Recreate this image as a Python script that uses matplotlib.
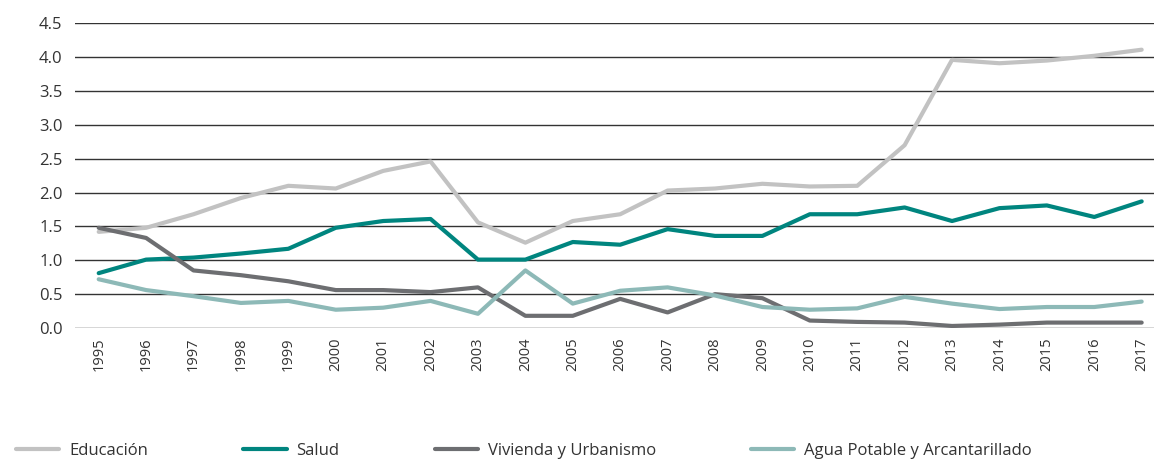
import numpy as np
import matplotlib
matplotlib.use('Agg')
import matplotlib.pyplot as plt

years = list(range(1995, 2018))
educacion = [1.42, 1.48, 1.68, 1.92, 2.10, 2.06, 2.32, 2.46, 1.56, 1.26, 1.58, 1.68,
             2.03, 2.06, 2.13, 2.09, 2.10, 2.70, 3.96, 3.91, 3.95, 4.02, 4.11]
salud = [0.81, 1.01, 1.04, 1.10, 1.17, 1.48, 1.58, 1.61, 1.01, 1.01, 1.27, 1.23,
         1.46, 1.36, 1.36, 1.68, 1.68, 1.78, 1.58, 1.77, 1.81, 1.64, 1.87]
vivienda = [1.48, 1.33, 0.85, 0.78, 0.69, 0.56, 0.56, 0.53, 0.60, 0.18, 0.18, 0.43,
            0.23, 0.50, 0.44, 0.11, 0.09, 0.08, 0.03, 0.05, 0.08, 0.08, 0.08]
agua = [0.72, 0.56, 0.47, 0.37, 0.40, 0.27, 0.30, 0.40, 0.21, 0.85, 0.36, 0.55,
        0.60, 0.48, 0.31, 0.27, 0.29, 0.46, 0.36, 0.28, 0.31, 0.31, 0.39]
labels = ['Educación', 'Salud', 'Vivienda y Urbanismo', 'Agua Potable y Arcantarillado']
colors = ['#c2c2c2', '#00857f', '#6d6e71', '#8db9b7']

plt.rcParams['font.family'] = ['Open Sans', 'DejaVu Sans']

fig = plt.figure(figsize=(11.54, 4.59), dpi=100)
ax = fig.add_axes([75 / 1154, 1 - 328 / 459, 1 - 75 / 1154, (328 - 23.3) / 459])

for vals, lab, col in zip([educacion, salud, vivienda, agua], labels, colors):
    ax.plot(years, vals, color=col, lw=3, label=lab, solid_capstyle='round', zorder=3)

ax.set_xlim(1994.5, 2017.26)
ax.set_ylim(0, 4.5)
ax.set_yticks(np.arange(0, 4.51, 0.5))
ax.set_yticklabels(['%.1f' % v for v in np.arange(0, 4.51, 0.5)])
ax.set_xticks(years)
ax.set_xticklabels([str(y) for y in years], rotation=90)
ax.tick_params(axis='y', length=0, pad=9, labelsize=12, labelcolor='#333333')
ax.tick_params(axis='x', length=0, pad=7, labelsize=10.5, labelcolor='#333333')
ax.grid(axis='y', color='#333333', lw=1.0, zorder=1)
ax.grid(axis='x', visible=False)
for s in ax.spines.values():
    s.set_visible(False)

fig.legend(loc='center left', bbox_to_anchor=(16 / 1154, 1 - 451 / 459), ncol=4,
           frameon=False, fontsize=12, handlelength=2.6, handletextpad=0.6,
           columnspacing=5.7, borderpad=0, borderaxespad=0, labelcolor='#333333')

fig.savefig('out.png', dpi=100)
